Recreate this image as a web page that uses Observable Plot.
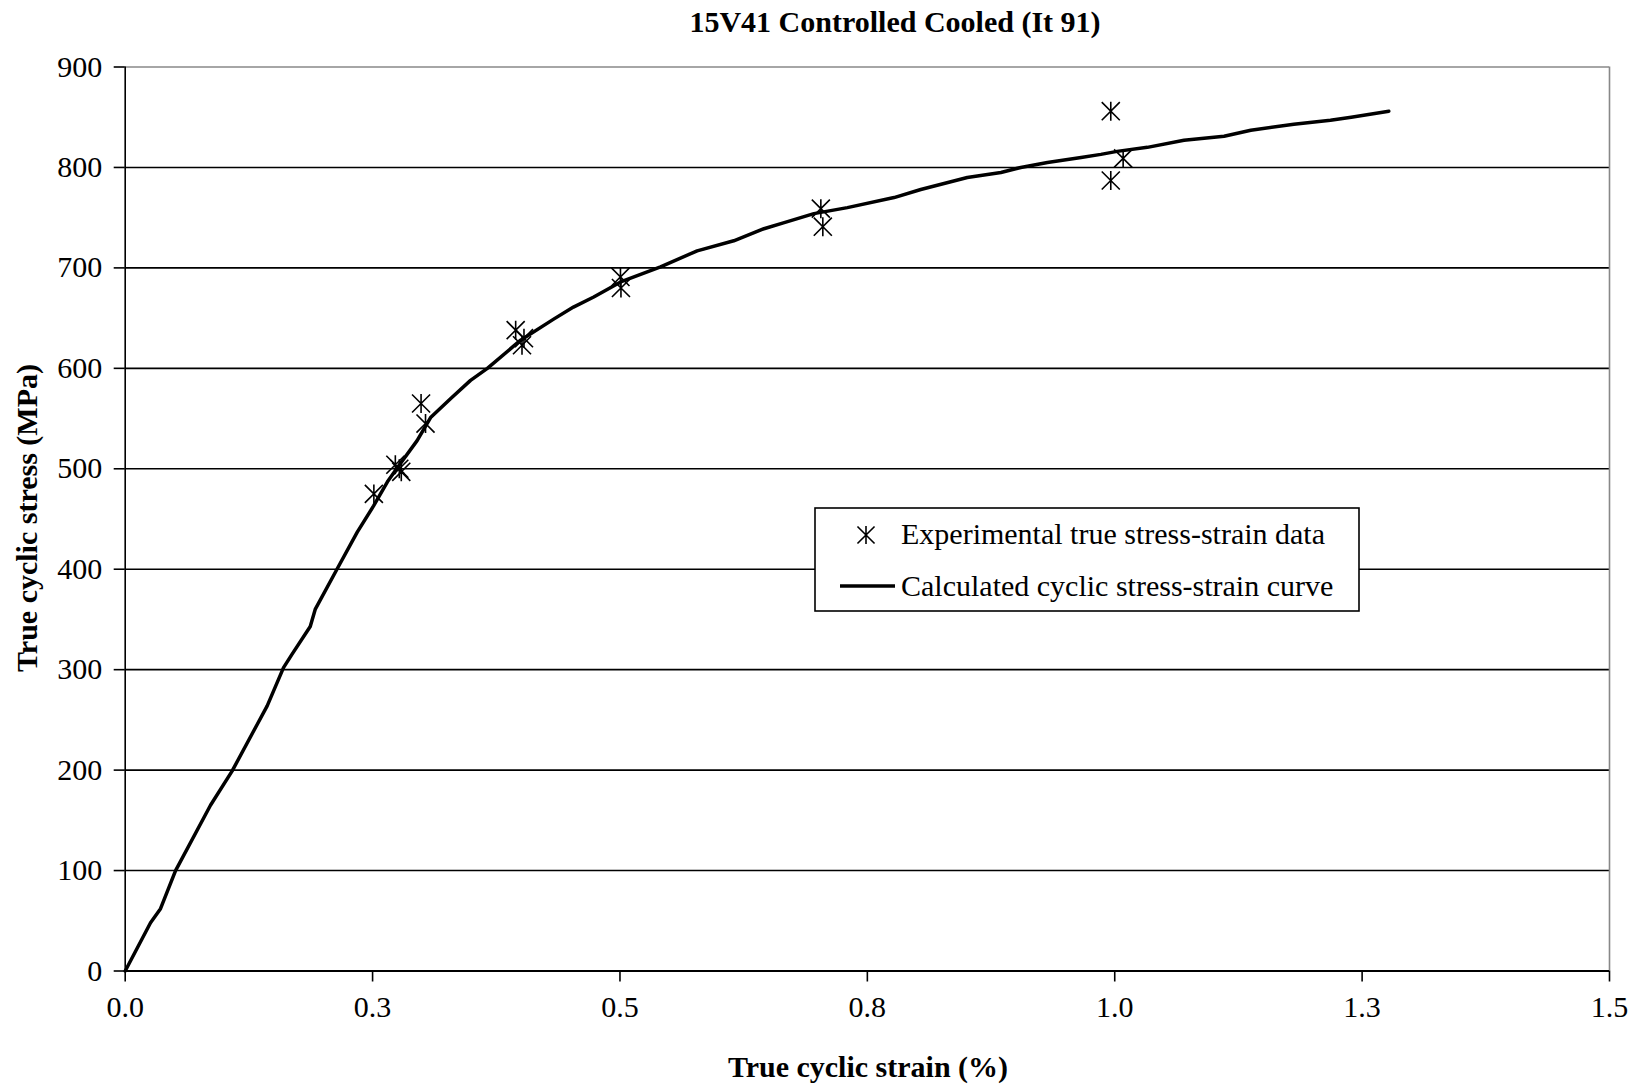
<!DOCTYPE html>
<html>
<head>
<meta charset="utf-8">
<script src="https://cdn.jsdelivr.net/npm/d3@7"></script>
<script src="https://cdn.jsdelivr.net/npm/@observablehq/plot@0.6"></script>
<style>
  html, body { margin: 0; padding: 0; background: white; }
  #wrap { position: relative; width: 1637px; height: 1086px; }
  #overlay { position: absolute; left: 0; top: 0; pointer-events: none; }
  text { font-family: "Liberation Serif", "Times New Roman", serif; }
</style>
</head>
<body>
<div id="wrap"></div>
<script>
// ---- data ----
const curveStrain = [0, 0.0256, 0.0357, 0.0509, 0.0862, 0.108, 0.1435, 0.160, 0.169, 0.187, 0.192, 0.214, 0.2345, 0.251, 0.265, 0.275, 0.295, 0.3086, 0.329, 0.349, 0.366, 0.3996, 0.433, 0.453, 0.4735, 0.5007, 0.541, 0.578, 0.615, 0.6455, 0.666, 0.696, 0.7298, 0.777, 0.804, 0.851, 0.885, 0.905, 0.932, 0.966, 0.986, 1.0024, 1.033, 1.070, 1.1105, 1.1375, 1.181, 1.218, 1.239, 1.277];
const curveStress = [0, 48, 62, 100, 165, 199, 264, 302, 316, 343, 360, 400, 437, 463, 487, 501, 528, 551, 570, 588, 600, 628, 649, 661, 671, 686, 701, 717, 727, 739, 745, 754, 760, 770, 778, 790, 795, 800, 805, 810, 813, 816, 820, 827, 831, 837, 843, 847, 850, 856];

const expStrain = [0.2513, 0.273, 0.277, 0.279, 0.299, 0.3035, 0.3946, 0.401, 0.403, 0.5005, 0.501, 0.703, 0.705, 0.996, 0.996, 1.0085];
const expStress = [475, 504, 500, 497, 565, 545, 638, 623, 630, 691, 680, 759, 741, 856, 787, 809];

const xTicks = [0, 0.25, 0.5, 0.75, 1.0, 1.25, 1.5];
const xTickLabels = ["0.0", "0.3", "0.5", "0.8", "1.0", "1.3", "1.5"];
const yTicks = [0, 100, 200, 300, 400, 500, 600, 700, 800, 900];
const yGrid = [100, 200, 300, 400, 500, 600, 700, 800];

const titleText = "15V41 Controlled Cooled (It 91)";
const xLabel = "True cyclic strain (%)";
const yLabel = "True cyclic stress (MPa)";
const legendLabels = ["Experimental true stress-strain data", "Calculated cyclic stress-strain curve"];

const curve = curveStrain.map((x, i) => ({x, y: curveStress[i]}));
const exp = expStrain.map((x, i) => ({x, y: expStress[i]}));

// Excel-like star marker: vertical bar plus two diagonals
const star = {
  draw(context, size) {
    const r = Math.sqrt(size / Math.PI);
    const d = r * 0.95;
    context.moveTo(0, -r); context.lineTo(0, r);
    context.moveTo(-d, -d); context.lineTo(d, d);
    context.moveTo(-d, d); context.lineTo(d, -d);
  }
};

const W = 1637, H = 1086;
const mL = 124.7, mR = 28, mT = 66.5, mB = 115.5;
const FS = 30;

const chart = Plot.plot({
  width: W,
  height: H,
  marginLeft: mL,
  marginRight: mR,
  marginTop: mT,
  marginBottom: mB,
  style: {
    fontFamily: "'Liberation Serif', 'Times New Roman', serif",
    fontSize: FS + "px",
    color: "black",
    background: "white",
    overflow: "visible"
  },
  x: {domain: [0, 1.5]},
  y: {domain: [0, 900]},
  marks: [
    Plot.ruleY(yGrid, {stroke: "black", strokeWidth: 1.6}),
    Plot.ruleY([900], {stroke: "#888", strokeWidth: 1.6}),
    Plot.ruleX([1.5], {stroke: "#888", strokeWidth: 1.6}),
    Plot.axisY(yTicks, {tickSize: 11, tickPadding: 12, label: null, strokeWidth: 1.6, fill: "black", stroke: "black"}),
    Plot.axisX(xTicks, {tickSize: 11, tickPadding: 14, label: null, strokeWidth: 1.6, fill: "black", stroke: "black",
      tickFormat: d => xTickLabels[xTicks.indexOf(d)]}),
    Plot.line(curve, {x: "x", y: "y", stroke: "black", strokeWidth: 3.5, strokeLinejoin: "round", strokeLinecap: "round"}),
    Plot.dot(exp, {x: "x", y: "y", symbol: star, r: 9.5, fill: "none", stroke: "black", strokeWidth: 1.6}),
    Plot.ruleX([0], {stroke: "black", strokeWidth: 1.6}),
    Plot.ruleY([0], {stroke: "black", strokeWidth: 2})
  ]
});

const wrap = document.getElementById("wrap");
wrap.appendChild(chart);

// overlay: title, axis titles, legend
const ns = "http://www.w3.org/2000/svg";
const ov = d3.select(wrap).append("svg")
  .attr("id", "overlay")
  .attr("width", W).attr("height", H)
  .attr("xmlns", ns);

ov.append("text").attr("x", 895).attr("y", 32).attr("text-anchor", "middle")
  .attr("font-size", FS).attr("font-weight", "bold").text(titleText);
ov.append("text").attr("x", 868).attr("y", 1077).attr("text-anchor", "middle")
  .attr("font-size", FS).attr("font-weight", "bold").text(xLabel);
ov.append("text").attr("transform", "translate(37,518) rotate(-90)").attr("text-anchor", "middle")
  .attr("font-size", FS).attr("font-weight", "bold").text(yLabel);

const lg = ov.append("g");
lg.append("rect").attr("x", 815).attr("y", 508).attr("width", 544).attr("height", 103)
  .attr("fill", "white").attr("stroke", "black").attr("stroke-width", 1.6);
const sp = d3.path();
star.draw(sp, 9 * 9 * Math.PI);
lg.append("path").attr("d", sp.toString()).attr("transform", "translate(866,535)")
  .attr("fill", "none").attr("stroke", "black").attr("stroke-width", 1.6);
lg.append("line").attr("x1", 840).attr("x2", 895).attr("y1", 586).attr("y2", 586)
  .attr("stroke", "black").attr("stroke-width", 3.5);
lg.append("text").attr("x", 901).attr("y", 544).attr("font-size", FS).text(legendLabels[0]);
lg.append("text").attr("x", 901).attr("y", 596).attr("font-size", FS).text(legendLabels[1]);
</script>
</body>
</html>
